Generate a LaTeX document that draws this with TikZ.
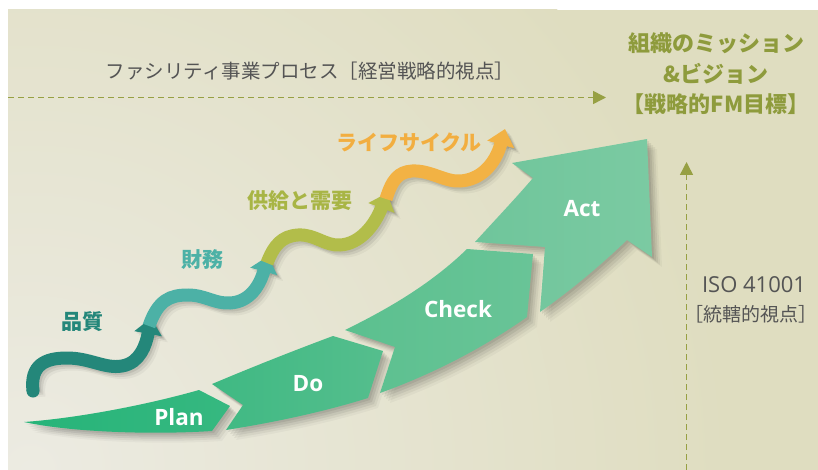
\documentclass[tikz,border=0pt]{standalone}
\usepackage{fontspec}
\setmainfont{Noto Sans CJK JP}
\newfontfamily\latfont{Open Sans}
\usetikzlibrary{arrows.meta}
\definecolor{bgdark}{HTML}{DFDDC0}
\definecolor{bglight}{HTML}{ECEBE2}
\definecolor{txtgray}{HTML}{545454}
\definecolor{olive}{HTML}{8E9B3C}
\definecolor{dashcol}{HTML}{97A043}
\definecolor{wvA}{HTML}{24877A}
\definecolor{wvB}{HTML}{4CB1A6}
\definecolor{wvC}{HTML}{B2BD4A}
\definecolor{wvD}{HTML}{F2B244}
\definecolor{lbC}{HTML}{A8B545}
\definecolor{lbD}{HTML}{F2AE40}
\definecolor{plA}{HTML}{26B479}
\definecolor{plB}{HTML}{36B880}
\definecolor{doA}{HTML}{3FB983}
\definecolor{doB}{HTML}{55BE8D}
\definecolor{chA}{HTML}{5BC08F}
\definecolor{chB}{HTML}{69C497}
\definecolor{acA}{HTML}{6FC59B}
\definecolor{acB}{HTML}{7BCAA2}
\def\planpath{(24,422) .. controls (80,418) and (150,404) .. (199,390) -- (230,406) -- (212,431) .. controls (150,435) and (70,432) .. (24,422) -- cycle}
\def\dopath{(212,384) .. controls (250,368) and (290,352) .. (333,336) -- (383,351) -- (368,398) .. controls (320,413) and (270,423) .. (226,430) -- (243,405) -- cycle}
\def\checkpath{(345,330) .. controls (390,308) and (432,283) .. (467,249) -- (533,254) -- (527,317) .. controls (480,350) and (430,375) .. (380,393) -- (395,347) -- cycle}
\def\actpath{(475,242) .. controls (495,220) and (515,199) .. (533,178) -- (512,163) -- (647,139) -- (652,257) -- (627,240) .. controls (600,266) and (570,291) .. (540,312) -- (545,247) -- cycle}
\def\waveA{(33,391) .. controls (30,365) and (45,358) .. (67,358) .. controls (90,358) and (105,369) .. (122,366) .. controls (140,363) and (146,345) .. (151,318)}
\def\waveB{(149,326) .. controls (158,300) and (170,295) .. (188,295) .. controls (205,295) and (215,304) .. (230,303) .. controls (250,302) and (260,285) .. (268,256)}
\def\waveC{(267,263) .. controls (274,245) and (282,236) .. (298,235) .. controls (315,234) and (325,246) .. (340,245) .. controls (360,244) and (375,225) .. (387,193)}
\def\waveD{(386,199) .. controls (392,180) and (398,172) .. (412,171) .. controls (430,170) and (445,182) .. (460,181) .. controls (480,180) and (495,165) .. (505,129)}
\begin{document}
\begin{tikzpicture}[x=1pt,y=-1pt,
  graytext/.style={text=txtgray, inner sep=0pt},
  pdca/.style={text=white, inner sep=0pt, anchor=base, font=\latfont\bfseries\fontsize{22.5}{26}\selectfont},
  wave/.style={line width=13pt, -{Triangle[length=16pt,width=27pt]}},
  wavelabel/.style={inner sep=0pt, font=\bfseries\fontsize{21}{24}\selectfont},
  dashconn/.style={dashcol, line width=1.5pt, dash pattern=on 6pt off 4pt, -{Triangle[length=13pt,width=13pt]}}]
\useasboundingbox (0,0) rectangle (818,470);
\fill[white] (0,0) rectangle (818,470);
\begin{scope}
  \clip (8,10) rectangle (818,470);
  \fill[bgdark] (8,10) rectangle (818,470);
  \shade[inner color=bglight, outer color=bgdark] (30,470) circle (700);
\end{scope}
% dashed connectors
\coordinate (hL) at (8,97.5);
\coordinate (hR) at (606,97.5);
\coordinate (vB) at (686.5,470);
\coordinate (vT) at (686.5,162);
\draw[dashconn] (hL) -- (hR);
\draw[dashconn] (vB) -- (vT);
% shadows of PDCA
\foreach \s/\o in {2/0.07,4/0.07,6/0.06,8/0.05,10/0.03}{
  \fill[black,opacity=\o,shift={(\s,\s)}] \planpath;
  \fill[black,opacity=\o,shift={(\s,\s)}] \dopath;
  \fill[black,opacity=\o,shift={(\s,\s)}] \checkpath;
  \fill[black,opacity=\o,shift={(\s,\s)}] \actpath;
}
\shade[left color=plA, right color=plB] \planpath;
\shade[left color=doA, right color=doB] \dopath;
\shade[left color=chA, right color=chB] \checkpath;
\shade[left color=acA, right color=acB] \actpath;
% wave shadows
\foreach \s/\o in {2/0.08,4/0.07,6/0.04}{
  \draw[wave, black, opacity=\o, shift={(\s,\s)}] \waveA;
  \draw[wave, black, opacity=\o, shift={(\s,\s)}] \waveB;
  \draw[wave, black, opacity=\o, shift={(\s,\s)}] \waveC;
  \draw[wave, black, opacity=\o, shift={(\s,\s)}] \waveD;
}
\fill[wvA] (33,391) circle (6.5);
\draw[wave, wvA] \waveA;
\draw[wave, wvB] \waveB;
\draw[wave, wvC] \waveC;
\draw[wave, wvD] \waveD;
% labels
\node[graytext, font=\fontsize{19.5}{22}\selectfont] (proc) at (310,71) {ファシリティ事業プロセス［経営戦略的視点］};
\node[inner sep=0pt, text=olive, align=center, font=\bfseries\fontsize{22}{30.5}\selectfont] (goal) at (716,74) {組織のミッション\\\&ビジョン\\【戦略的FM目標】};
\node[graytext, font=\latfont\fontsize{22}{26}\selectfont] (iso) at (754,285) {ISO 41001};
\node[graytext, font=\fontsize{19}{24}\selectfont] (isosub) at (751,314) {［統轄的視点］};
\node[wavelabel, text=wvA] (q) at (82,322) {品質};
\node[wavelabel, text=wvB] (f) at (202,260) {財務};
\node[wavelabel, text=lbC] (s) at (300,201) {供給と需要};
\node[wavelabel, text=lbD] (l) at (409,142) {ライフサイクル};
\node[pdca] (plan) at (179,425) {Plan};
\node[pdca] (do) at (308,391) {Do};
\node[pdca] (check) at (458,317) {Check};
\node[pdca] (act) at (582,217) {Act};
\end{tikzpicture}
\end{document}
